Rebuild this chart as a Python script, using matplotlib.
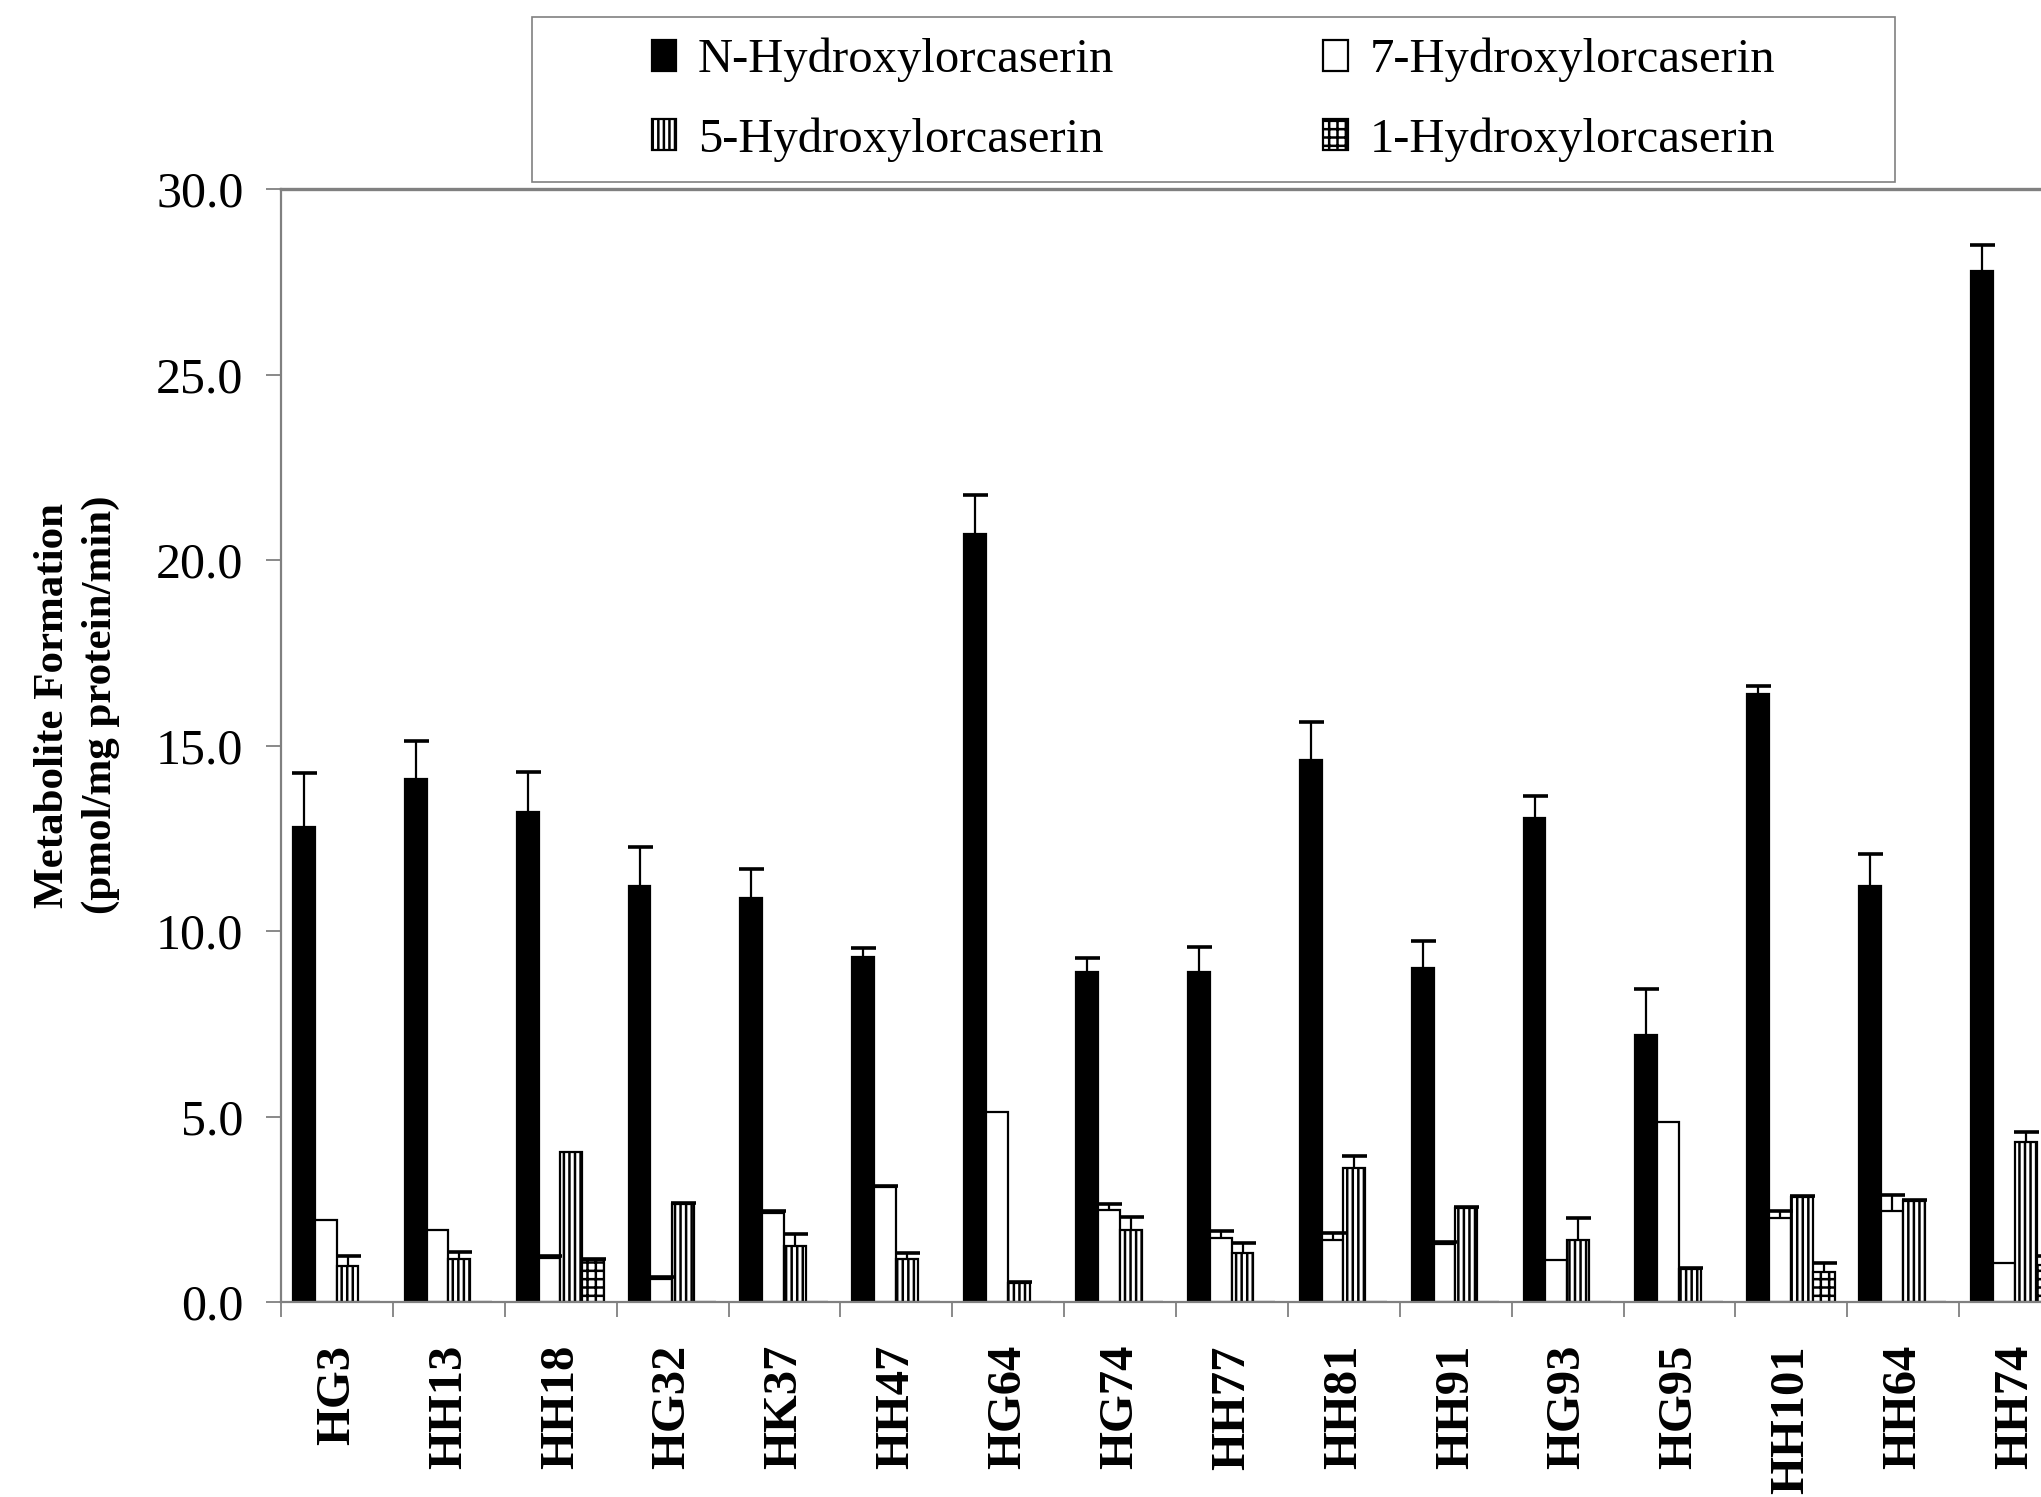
import numpy as np
import matplotlib.pyplot as plt
from matplotlib.patches import Patch, Rectangle

plt.rcParams['font.family'] = ['Liberation Serif', 'DejaVu Serif']
plt.rcParams['hatch.linewidth'] = 1.8
plt.rcParams['hatch.color'] = 'black'

nan = np.nan
samples = ['HG3', 'HH13', 'HH18', 'HG32', 'HK37', 'HH47', 'HG64', 'HG74',
           'HH77', 'HH81', 'HH91', 'HG93', 'HG95', 'HH101', 'HH64', 'HH74']

n_oh = [12.8, 14.1, 13.2, 11.2, 10.9, 9.3, 20.7, 8.9,
        8.9, 14.6, 9.0, 13.05, 7.2, 16.4, 11.2, 27.8]
n_oh_sd = [1.45, 1.02, 1.09, 1.06, 0.77, 0.24, 1.05, 0.38,
           0.66, 1.02, 0.74, 0.6, 1.23, 0.21, 0.88, 0.7]

oh7 = [2.21, 1.93, 1.18, 0.62, 2.39, 3.09, 5.12, 2.47,
       1.73, 1.67, 1.55, 1.13, 4.85, 2.26, 2.44, 1.06]
oh7_sd = [nan, nan, 0.05, 0.05, 0.05, 0.05, nan, 0.17,
          0.18, 0.18, 0.06, nan, nan, 0.18, 0.45, nan]

oh5 = [0.98, 1.15, 4.05, 2.65, 1.51, 1.16, 0.51, 1.94,
       1.33, 3.61, 2.53, 1.67, 0.88, 2.82, 2.71, 4.31]
oh5_sd = [0.26, 0.19, nan, 0.03, 0.33, 0.17, 0.04, 0.35,
          0.25, 0.33, 0.04, 0.6, 0.04, 0.03, 0.04, 0.27]

oh1 = [0, 0, 1.13, 0, 0, 0, 0, 0,
       0, 0, 0, 0, 0, 0.8, 0, 1.0]
oh1_sd = [nan, nan, 0.03, nan, nan, nan, nan, nan,
          nan, nan, nan, nan, nan, 0.26, nan, 0.25]

names = ['N-Hydroxylorcaserin', '7-Hydroxylorcaserin',
         '5-Hydroxylorcaserin', '1-Hydroxylorcaserin']
styles = [dict(facecolor='black', hatch=None),
          dict(facecolor='white', hatch=None),
          dict(facecolor='white', hatch='|||'),
          dict(facecolor='white', hatch='++')]

W, H = 2041, 1497
fig = plt.figure(figsize=(W / 100, H / 100), dpi=100)
# axes runs a little past the right edge, last group is clipped
ax = fig.add_axes([281 / W, (H - 1302) / H, (2071 - 281) / W, (1302 - 189) / H])

x = np.arange(len(samples))
w = 0.195
off = 0.107
ekw = dict(ecolor='black', elinewidth=1.6, capsize=9, capthick=2.6)
for k, (vals, sd) in enumerate([(n_oh, n_oh_sd), (oh7, oh7_sd), (oh5, oh5_sd), (oh1, oh1_sd)]):
    sd = np.array(sd, dtype=float)
    bc = ax.bar(x + off + k * w, vals, w, align='edge', edgecolor='black', linewidth=1.6,
                yerr=[np.zeros_like(sd), sd], error_kw=ekw, **styles[k])
    # plus-only error bars: drop the lower caps sitting on the bar tops
    caplines = bc.errorbar.lines[1]
    caplines[0].remove()

ax.set_xlim(0, len(samples))
ax.set_ylim(0, 30)
ax.set_yticks(np.arange(0, 31, 5))
ax.set_yticklabels(['%.1f' % v for v in np.arange(0, 31, 5)])
ax.tick_params(axis='y', length=11, width=1.3, color='gray', pad=16, labelsize=36)

ax.set_xticks(x + 0.5)
ax.set_xticklabels(samples, rotation=90, fontsize=35, fontweight='bold', va='top', ha='center')
ax.set_xticks(np.arange(0, len(samples) + 1), minor=True)
ax.tick_params(axis='x', which='major', length=0, pad=31)
ax.tick_params(axis='x', which='minor', length=11, width=1.3, color='gray', direction='out')

for s in ['left', 'bottom', 'top']:
    ax.spines[s].set_color('gray')
    ax.spines[s].set_linewidth(1.6)
ax.spines['top'].set_linewidth(2.4)
ax.spines['right'].set_visible(False)

fig.text(77 / W, 1 - 705 / H, 'Metabolite Formation\n(pmol/mg protein/min)',
         rotation=90, ha='center', va='center', multialignment='center',
         fontsize=31, fontweight='bold', linespacing=1.35)

handles = [Patch(edgecolor='black', linewidth=1.6, label=names[i], **styles[i]) for i in [0, 2, 1, 3]]
fig.legend(handles=handles, loc='center', bbox_to_anchor=(1213.5 / W, 1 - 100 / H),
           ncol=2, frameon=False, fontsize=35, handlelength=0.5, handleheight=0.6,
           handletextpad=0.45, columnspacing=4.3, labelspacing=0.72)
fig.add_artist(Rectangle((532 / W, 1 - 182 / H), (1895 - 532) / W, 165 / H,
                         transform=fig.transFigure, fill=False, edgecolor='gray', linewidth=1.2))

fig.savefig('out.png', dpi=100)
